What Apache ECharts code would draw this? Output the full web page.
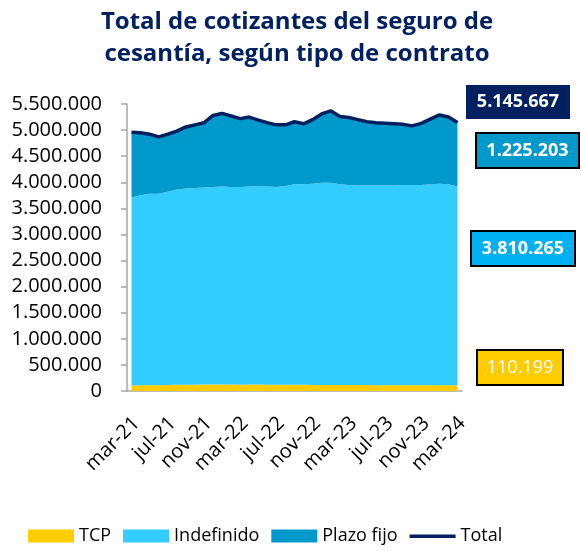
<!DOCTYPE html>
<html>
<head>
<meta charset="utf-8">
<script src="https://cdn.jsdelivr.net/npm/echarts@6/dist/echarts.min.js"></script>
<style>
html,body{margin:0;padding:0;background:#fff;}
#chart{width:581px;height:551px;}
</style>
</head>
<body>
<div id="chart"></div>
<script>
var months = ["mar-21","abr-21","may-21","jun-21","jul-21","ago-21","sept-21","oct-21","nov-21","dic-21","ene-22","feb-22",
"mar-22","abr-22","may-22","jun-22","jul-22","ago-22","sept-22","oct-22","nov-22","dic-22","ene-23","feb-23",
"mar-23","abr-23","may-23","jun-23","jul-23","ago-23","sept-23","oct-23","nov-23","dic-23","ene-24","feb-24","mar-24"];

var tcp = [105000,108000,110000,112000,115000,118000,120000,122000,124000,125000,126000,124000,
122000,123000,124000,122000,120000,119000,118000,118000,117000,116000,115000,114000,
114000,113000,113000,112000,112000,112000,111000,111000,110000,110000,111000,110000,110199];

var indefinido = [3605000,3642000,3670000,3668000,3705000,3742000,3760000,3768000,3776000,3785000,3794000,3786000,
3788000,3797000,3806000,3798000,3790000,3811000,3842000,3842000,3853000,3874000,3875000,3846000,
3836000,3827000,3827000,3828000,3828000,3828000,3839000,3839000,3840000,3850000,3859000,3850000,3810265];

var plazoFijo = [1250000,1200000,1140000,1090000,1100000,1120000,1180000,1210000,1240000,1370000,1400000,1360000,
1310000,1330000,1260000,1220000,1190000,1170000,1200000,1160000,1230000,1320000,1380000,1300000,
1290000,1260000,1220000,1200000,1190000,1180000,1160000,1130000,1180000,1250000,1320000,1290000,1225203];

var total = [4960000,4950000,4920000,4870000,4920000,4980000,5060000,5100000,5140000,5280000,5320000,5270000,
5220000,5250000,5190000,5140000,5100000,5100000,5160000,5120000,5200000,5310000,5370000,5260000,
5240000,5200000,5160000,5140000,5130000,5120000,5110000,5080000,5130000,5210000,5290000,5250000,5145667];

var titleLines = ["Total de cotizantes del seguro de", "cesantía, según tipo de contrato"];

function fmt(v){ return String(Math.round(v)).replace(/\B(?=(\d{3})+(?!\d))/g, "."); }

var C_TCP = "#FFCC00", C_IND = "#33CCFF", C_PF = "#0099CC", C_TOT = "#002060";
var FONT = "'Open Sans', sans-serif";

var chart = echarts.init(document.getElementById("chart"), null, {renderer:"canvas"});

function areaSeries(name, data, color){
  return {
    name: name, type: "line", stack: "a", data: data, symbol: "none",
    lineStyle: {width: 0, color: color}, itemStyle: {color: color},
    areaStyle: {color: color, opacity: 1}, emphasis: {disabled: true}
  };
}

function box(x, y, w, h, fill, stroke, text, bold){
  return {
    type: "group", children: [
      {type: "rect", shape: {x: x, y: y, width: w, height: h},
       style: {fill: fill, stroke: stroke || null, lineWidth: stroke ? 2 : 0}},
      {type: "text", x: x + w/2, y: y + h/2,
       style: {text: text, fill: "#fff", font: (bold ? "bold " : "") + "18px " + FONT,
               textAlign: "center", textVerticalAlign: "middle"}}
    ]
  };
}

var n = total.length - 1;

chart.setOption({
  animation: false,
  textStyle: {fontFamily: FONT},
  title: {
    text: titleLines.join("\n"), left: 292, top: 1, textAlign: "center",
    textStyle: {color: C_TOT, fontSize: 24, fontWeight: "bold", fontFamily: FONT, lineHeight: 32}
  },
  legend: {
    bottom: 6, left: 28, padding: 0, itemWidth: 46, itemHeight: 13, itemGap: 12,
    textStyle: {fontSize: 18, color: "#000", fontFamily: FONT},
    data: [
      {name: "TCP", icon: "rect"},
      {name: "Indefinido", icon: "rect"},
      {name: "Plazo fijo", icon: "rect"},
      {name: "Total", icon: "path://M0,0 M46,13 M0,5 L46,5 L46,8.5 L0,8.5 Z"}
    ]
  },
  grid: {left: 127, right: 119, top: 104, bottom: 160, containLabel: false},
  xAxis: {
    type: "category", data: months, boundaryGap: true,
    axisLine: {lineStyle: {color: "#A6A6A6", width: 1.5}},
    axisTick: {interval: 3, length: 6, lineStyle: {color: "#A6A6A6", width: 1.5}},
    axisLabel: {interval: 3, rotate: 45, fontSize: 20, color: "#000", margin: 34, fontFamily: FONT,
                padding: [0, -7, 0, 0]}
  },
  yAxis: {
    type: "value", min: 0, max: 5500000, interval: 500000,
    axisLine: {show: true, lineStyle: {color: "#A6A6A6", width: 1.5}},
    axisTick: {show: true, length: 6, lineStyle: {color: "#A6A6A6", width: 1.5}},
    splitLine: {show: false},
    axisLabel: {fontSize: 20, color: "#000", margin: 25, formatter: function(v){ return fmt(v); }, fontFamily: FONT}
  },
  series: [
    areaSeries("TCP", tcp, C_TCP),
    areaSeries("Indefinido", indefinido, C_IND),
    areaSeries("Plazo fijo", plazoFijo, C_PF),
    {
      name: "Total", type: "line", data: total, symbol: "none",
      lineStyle: {width: 3.5, color: C_TOT}, itemStyle: {color: C_TOT}, z: 5,
      emphasis: {disabled: true}
    }
  ],
  graphic: [
    box(466, 85, 104, 34, C_TOT, null, fmt(total[n]), true),
    box(476, 133, 103, 35, "#0099CC", "#000", fmt(plazoFijo[n]), true),
    box(471, 231, 104, 35, "#00B0F0", "#000", fmt(indefinido[n]), true),
    box(477, 350, 86, 35, C_TCP, "#000", fmt(tcp[n]), false)
  ]
});
</script>
</body>
</html>
